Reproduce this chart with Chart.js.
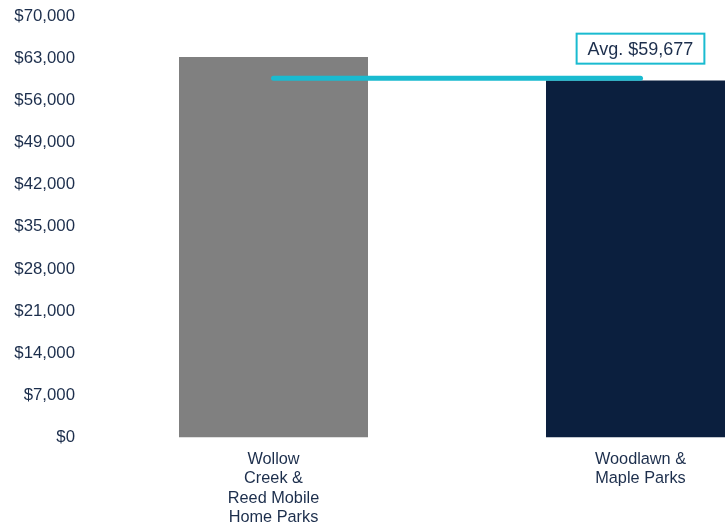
<!DOCTYPE html>
<html>
<head>
<meta charset="utf-8">
<script src="https://cdn.jsdelivr.net/npm/chart.js@4"></script>
<style>
  html, body { margin: 0; padding: 0; background: #ffffff; overflow: hidden; }
  #wrap { position: relative; width: 824px; height: 528px; }
</style>
</head>
<body>
<div id="wrap"><canvas id="c"></canvas></div>
<script>
// Median household income by park area
const categories = [
  ['Wollow', 'Creek &', 'Reed Mobile', 'Home Parks'],
  ['Woodlawn &', 'Maple Parks']
];
const incomeValues = [63200, 59300];
const averageIncome = 59677;
const barColors = ['#808080', '#0B1F3E'];
const yMin = 0, yMax = 70000, yStep = 7000;

const money = v => '$' + Math.round(v).toLocaleString('en-US');
const avgText = 'Avg. ' + money(averageIncome);
const FONT = '"Liberation Sans", Arial, sans-serif';

// Boxed caption above the right end of the average line
const avgLabel = {
  id: 'avgLabel',
  afterDatasetsDraw(chart) {
    const meta = chart.getDatasetMeta(1);
    const last = meta.data[meta.data.length - 1];
    if (!last) return;
    const ctx = chart.ctx;
    ctx.save();
    ctx.font = '18px ' + FONT;
    const w = ctx.measureText(avgText).width + 22;
    const h = 30;
    const cx = last.x, cy = last.y - 29.5;
    ctx.fillStyle = '#ffffff';
    ctx.fillRect(cx - w / 2, cy - h / 2, w, h);
    ctx.strokeStyle = '#1ABBD0';
    ctx.lineWidth = 2;
    ctx.strokeRect(cx - w / 2, cy - h / 2, w, h);
    ctx.fillStyle = '#1C2E4C';
    ctx.textAlign = 'center';
    ctx.textBaseline = 'middle';
    ctx.fillText(avgText, cx, cy + 1);
    ctx.restore();
  }
};

new Chart(document.getElementById('c'), {
  data: {
    labels: categories,
    datasets: [
      {
        type: 'bar',
        data: incomeValues,
        backgroundColor: barColors,
        categoryPercentage: 1,
        barPercentage: 0.515,
        order: 2
      },
      {
        type: 'line',
        data: categories.map(() => averageIncome),
        borderColor: '#1ABBD0',
        borderWidth: 5,
        borderCapStyle: 'round',
        pointRadius: 0,
        pointHoverRadius: 0,
        fill: false,
        order: 1
      }
    ]
  },
  options: {
    responsive: true,
    maintainAspectRatio: false,
    animation: false,
    events: [],
    layout: { padding: { top: 16, left: 0, right: 0, bottom: 0 } },
    plugins: { legend: { display: false }, tooltip: { enabled: false } },
    scales: {
      x: {
        grid: { display: false, drawTicks: false },
        border: { display: false },
        afterFit(scale) {
          scale.height = 90.5;
          scale.paddingLeft = 0;
          scale.paddingRight = 0;
        },
        ticks: {
          color: '#1C2E4C',
          padding: 12,
          maxRotation: 0,
          autoSkip: false,
          font: { family: FONT, size: 16.3, lineHeight: 1.2 }
        }
      },
      y: {
        min: yMin,
        max: yMax,
        grid: { display: false, drawTicks: false },
        border: { display: false },
        afterFit(scale) {
          scale.width = 90;
          scale.paddingTop = 0;
          scale.paddingBottom = 0;
        },
        ticks: {
          stepSize: yStep,
          padding: 15,
          color: '#1C2E4C',
          font: { family: FONT, size: 16.8 },
          callback: v => money(v)
        }
      }
    }
  },
  plugins: [avgLabel]
});
</script>
</body>
</html>
